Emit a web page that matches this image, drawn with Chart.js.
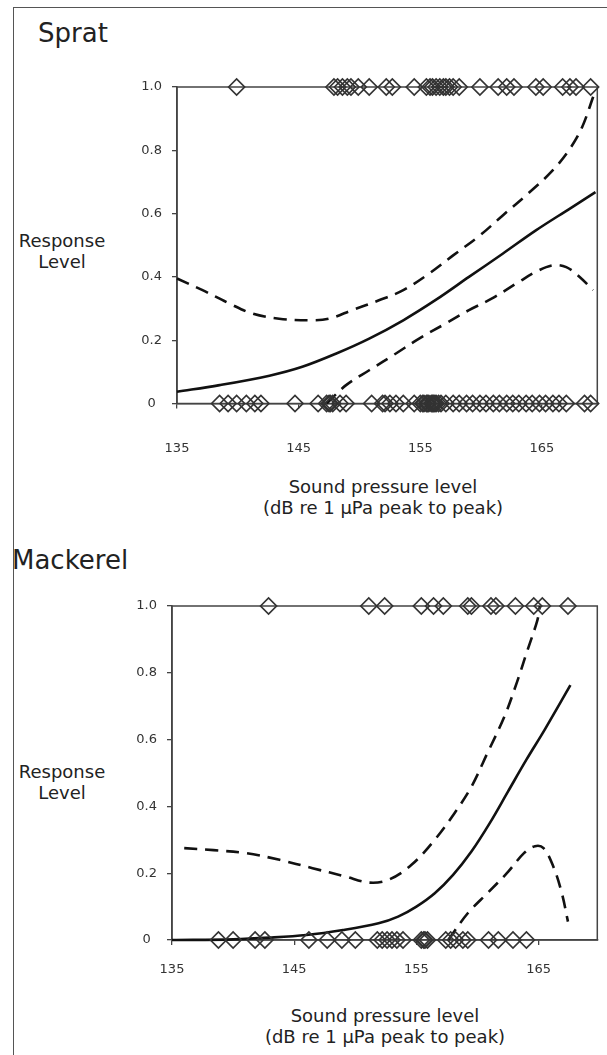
<!DOCTYPE html>
<html>
<head>
<meta charset="utf-8">
<script src="https://cdn.jsdelivr.net/npm/chart.js@4.4.0/dist/chart.umd.min.js"></script>
<style>
  html, body { margin: 0; padding: 0; background: #fff; }
  body { width: 607px; height: 1055px; position: relative; overflow: hidden; font-family: 'DejaVu Sans', sans-serif; color: #222; }
  .frame { position: absolute; left: 13px; top: 7px; width: 600px; height: 1060px; border-left: 1px solid #555; border-top: 1px solid #555; }
  .title { position: absolute; font-size: 26px; line-height: 26px; white-space: nowrap; }
  .ylab { position: absolute; font-size: 18px; line-height: 21px; text-align: center; width: 100px; white-space: nowrap; }
  .xlab { position: absolute; font-size: 18px; line-height: 21px; text-align: center; width: 300px; white-space: nowrap; }
  canvas { position: absolute; left: 0; }
</style>
</head>
<body>
<div class="frame"></div>
<div class="title" style="left:38px; top:20px;">Sprat</div>
<div class="title" style="left:12px; top:547px;">Mackerel</div>
<div class="ylab" style="left:12px; top:230px;">Response<br>Level</div>
<div class="ylab" style="left:12px; top:761px;">Response<br>Level</div>
<div class="xlab" style="left:233px; top:476px;">Sound pressure level<br>(dB re 1 μPa peak to peak)</div>
<div class="xlab" style="left:235px; top:1005px;">Sound pressure level<br>(dB re 1 μPa peak to peak)</div>
<canvas id="c1" width="607" height="540" style="top:0px;"></canvas>
<canvas id="c2" width="607" height="515" style="top:540px;"></canvas>
<script>
// ---------- data ----------
const xTicks = [135, 145, 155, 165];
const yTicks = [0, 0.2, 0.4, 0.6, 0.8, 1.0];

// Sprat: observed responses (y = 1) and non-responses (y = 0), sound pressure level in dB
const spratRespX = [139.9, 147.9, 148.2, 148.6, 149.0, 149.3, 149.9, 150.8, 152.2, 152.7, 154.5, 155.5, 155.8, 156.0, 156.3, 156.6, 156.9, 157.1, 157.4, 157.7, 158.2, 159.9, 161.4, 162.1, 162.7, 164.5, 165.1, 166.7, 167.3, 167.8, 169.0];
const spratNoRespX = [138.5, 139.2, 139.9, 140.7, 141.4, 141.9, 144.7, 146.6, 147.3, 147.5, 147.6, 147.8, 148.4, 148.9, 151.0, 151.9, 152.1, 152.5, 153.0, 153.6, 154.5, 155.0, 155.2, 155.3, 155.5, 155.6, 155.7, 155.9, 156.0, 156.1, 156.2, 156.3, 156.5, 156.7, 157.1, 157.7, 158.2, 158.8, 159.3, 159.9, 160.4, 161.0, 161.5, 162.1, 162.6, 163.1, 163.7, 164.2, 164.8, 165.3, 165.9, 166.4, 167.0, 168.5, 169.0];
// Sprat fitted curve and confidence limits
const spratFitX = [135, 138.5, 142.6, 145.3, 148.1, 150.8, 153.6, 156.3, 159.0, 161.8, 164.5, 167.3, 169.4];
const spratFitY = [0.037, 0.058, 0.088, 0.116, 0.158, 0.205, 0.263, 0.328, 0.40, 0.474, 0.547, 0.616, 0.668];
const spratUpX = [135.0, 137.1, 139.3, 141.2, 143.4, 145.9, 147.5, 149.4, 151.6, 153.6, 155.7, 157.7, 159.9, 161.8, 164.0, 165.9, 167.3, 168.3, 169.3];
const spratUpY = [0.395, 0.358, 0.316, 0.284, 0.268, 0.263, 0.268, 0.295, 0.326, 0.358, 0.41, 0.468, 0.531, 0.595, 0.668, 0.737, 0.805, 0.873, 0.979];
const spratLoX = [147.3, 148.9, 150.8, 153.0, 154.9, 157.1, 159.0, 160.9, 163.1, 164.5, 165.9, 167.0, 168.1, 169.2];
const spratLoY = [0, 0.058, 0.105, 0.158, 0.205, 0.253, 0.295, 0.332, 0.384, 0.416, 0.437, 0.431, 0.40, 0.358];

// Mackerel
const mackRespX = [142.9, 151.1, 152.4, 155.4, 156.4, 157.2, 159.2, 159.5, 161.1, 161.5, 163.1, 164.6, 165.3, 167.4];
const mackNoRespX = [138.8, 140.0, 141.8, 142.6, 146.2, 147.7, 148.9, 150.0, 151.8, 152.2, 152.6, 153.0, 153.4, 153.9, 155.4, 155.6, 155.7, 155.9, 157.4, 157.8, 158.2, 158.8, 159.2, 160.9, 161.7, 162.9, 164.0];
const mackFitX = [135, 140, 143, 146, 149, 151.9, 153.5, 155, 156.5, 158, 159.5, 161, 162.5, 164, 165.5, 167.6];
const mackFitY = [0, 0.002, 0.007, 0.015, 0.03, 0.05, 0.07, 0.10, 0.14, 0.195, 0.265, 0.35, 0.445, 0.54, 0.63, 0.763];
const mackUpX = [136.0, 138.4, 141.1, 143.8, 146.5, 149.2, 151.1, 152.7, 154.6, 156.5, 158.1, 159.5, 160.8, 162.2, 163.2, 164.0, 164.9, 165.1];
const mackUpY = [0.275, 0.269, 0.26, 0.24, 0.215, 0.19, 0.172, 0.18, 0.225, 0.30, 0.379, 0.459, 0.559, 0.669, 0.769, 0.858, 0.958, 1.0];
const mackLoX = [157.6, 159.2, 160.8, 162.4, 163.8, 164.7, 165.4, 166.2, 166.9, 167.4];
const mackLoY = [0, 0.08, 0.14, 0.20, 0.26, 0.281, 0.275, 0.22, 0.14, 0.055];

// ---------- helpers ----------
Chart.defaults.font.family = "'DejaVu Sans', sans-serif";
const pts = (xs, ys) => xs.map((x, i) => ({ x: x, y: ys[i] }));
const constPts = (xs, v) => xs.map(x => ({ x: x, y: v }));

const boxPlugin = {
  id: 'box',
  beforeDatasetsDraw(chart) {
    const a = chart.chartArea, ctx = chart.ctx;
    ctx.save();
    ctx.strokeStyle = '#444';
    ctx.lineWidth = 1.5;
    ctx.strokeRect(a.left, a.top, a.right - a.left, a.bottom - a.top);
    ctx.restore();
  }
};

function lineDs(xs, ys, dashed) {
  return {
    type: 'line', data: pts(xs, ys), borderColor: '#111', borderWidth: 2.6,
    borderDash: dashed ? [13, 8] : [], pointRadius: 0, fill: false,
    tension: 0.35, clip: false, order: 2
  };
}
function markDs(xs, v) {
  return {
    type: 'scatter', data: constPts(xs, v), pointStyle: 'rectRot', pointRadius: 8,
    borderColor: '#333', borderWidth: 1.7, backgroundColor: 'rgba(0,0,0,0)',
    clip: false, order: 1
  };
}

function makeChart(id, cfg) {
  return new Chart(document.getElementById(id), {
    type: 'scatter',
    data: { datasets: [
      lineDs(cfg.fitX, cfg.fitY, false),
      lineDs(cfg.upX, cfg.upY, true),
      lineDs(cfg.loX, cfg.loY, true),
      markDs(cfg.respX, 1),
      markDs(cfg.noRespX, 0)
    ]},
    options: {
      responsive: false, animation: false, devicePixelRatio: 1,
      layout: { padding: cfg.padding },
      plugins: { legend: { display: false }, tooltip: { enabled: false } },
      scales: {
        x: {
          type: 'linear', min: 135, max: cfg.xMax,
          afterFit: s => { s.height = 60; },
          afterBuildTicks: s => { s.ticks = xTicks.map(v => ({ value: v })); },
          ticks: { padding: cfg.xPad, color: '#333', font: { size: 13 }, callback: v => String(v) },
          grid: { drawOnChartArea: false, tickLength: 5, color: '#444', lineWidth: 1.3 },
          border: { color: '#444', width: 1.5 }
        },
        y: {
          min: 0, max: 1,
          afterFit: s => { s.width = cfg.yWidth; },
          afterBuildTicks: s => { s.ticks = yTicks.map(v => ({ value: v })); },
          ticks: { crossAlign: 'center', padding: 10, color: '#333', font: { size: 13 },
                   callback: v => (v === 0 ? '0' : v.toFixed(1)) },
          grid: { drawOnChartArea: false, tickLength: 5, color: '#444', lineWidth: 1.3 },
          border: { color: '#444', width: 1.5 }
        }
      }
    },
    plugins: [boxPlugin]
  });
}

makeChart('c1', {
  fitX: spratFitX, fitY: spratFitY, upX: spratUpX, upY: spratUpY, loX: spratLoX, loY: spratLoY,
  respX: spratRespX, noRespX: spratNoRespX,
  xMax: 169.55, yWidth: 177, xPad: 32,
  padding: { left: 0, right: 9, top: 87, bottom: 76.5 }
});
makeChart('c2', {
  fitX: mackFitX, fitY: mackFitY, upX: mackUpX, upY: mackUpY, loX: mackLoX, loY: mackLoY,
  respX: mackRespX, noRespX: mackNoRespX,
  xMax: 169.8, yWidth: 172, xPad: 17,
  padding: { left: 0, right: 4, top: 66, bottom: 55 }
});
</script>
</body>
</html>
